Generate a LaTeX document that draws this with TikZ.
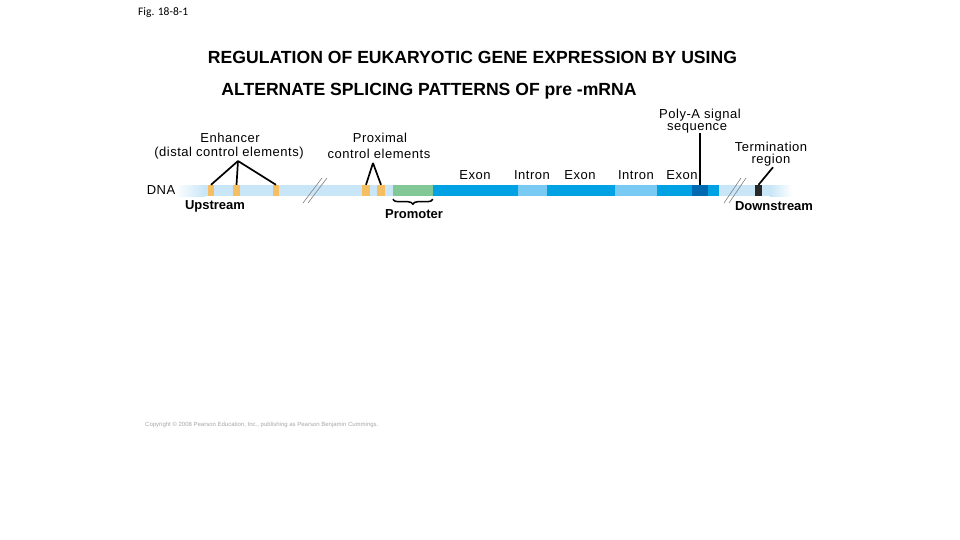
\documentclass[tikz,border=0pt]{standalone}
\usepackage{fontspec}
\setmainfont{Liberation Sans}
\newfontfamily\lblfont[LetterSpace=4]{Liberation Sans}
\newfontfamily\figfont{Carlito}
\usetikzlibrary{decorations.pathreplacing}
\definecolor{dnalight}{RGB}{200,230,248}
\definecolor{exonblue}{RGB}{0,162,228}
\definecolor{intronblue}{RGB}{120,202,242}
\definecolor{polyblue}{RGB}{0,105,175}
\definecolor{ctrlyellow}{RGB}{246,190,98}
\definecolor{promgreen}{RGB}{130,200,150}
\definecolor{termgray}{RGB}{40,40,40}
\begin{document}
\begin{tikzpicture}[x=1pt, y=-1pt,
    seg/.style={inner sep=0pt, minimum height=11pt, fill=#1},
    lbl/.style={font=\lblfont\fontsize{13}{14}\selectfont, inner sep=0pt},
    blbl/.style={font=\bfseries\fontsize{13}{14}\selectfont, inner sep=0pt},
    titletxt/.style={font=\bfseries\fontsize{17.6}{20}\selectfont, inner sep=0pt},
    pointer/.style={line width=1.7pt, black},
    breakmark/.style={gray, line width=0.6pt}]
    \useasboundingbox (0,0) rectangle (960,540);

    % Title
    \node[font=\figfont\fontsize{11.5}{13}\selectfont, anchor=west, inner sep=0pt] (fig) at (138,13) {Fig. 18-8-1};
    \node[titletxt] (title1) at (472.5,57) {REGULATION OF EUKARYOTIC GENE EXPRESSION BY USING};
    \node[titletxt] (title2) at (429,91) {ALTERNATE SPLICING PATTERNS OF pre -mRNA};

    % DNA strand
    \shade[left color=white, right color=dnalight] (175,185) rectangle (205,196);
    \fill[dnalight] (205,185) rectangle (770,196);
    \shade[left color=dnalight, right color=white] (770,185) rectangle (792,196);

    % control elements
    \node[seg=ctrlyellow, minimum width=6pt] (enh1) at (211,190.5) {};
    \node[seg=ctrlyellow, minimum width=7pt] (enh2) at (236.5,190.5) {};
    \node[seg=ctrlyellow, minimum width=6pt] (enh3) at (276,190.5) {};
    \node[seg=ctrlyellow, minimum width=8pt] (prox1) at (366,190.5) {};
    \node[seg=ctrlyellow, minimum width=8pt] (prox2) at (381,190.5) {};
    \node[seg=promgreen, minimum width=40pt] (prom) at (413,190.5) {};

    % transcription unit
    \node[seg=exonblue, minimum width=85pt] (exon1) at (475.5,190.5) {};
    \node[seg=intronblue, minimum width=29pt] (intron1) at (532.5,190.5) {};
    \node[seg=exonblue, minimum width=68pt] (exon2) at (581,190.5) {};
    \node[seg=intronblue, minimum width=42pt] (intron2) at (636,190.5) {};
    \node[seg=exonblue, minimum width=62pt] (exon3) at (688,190.5) {};
    \node[seg=polyblue, minimum width=16pt] (polyA) at (700,190.5) {};
    \node[seg=termgray, minimum width=7pt] (term) at (758.5,190.5) {};

    % breaks
    \draw[breakmark] (303,203) -- (322,178);
    \draw[breakmark] (308,203) -- (327,178);
    \draw[breakmark] (724,203) -- (741,178);
    \draw[breakmark] (729,203) -- (746,178);

    % labels
    \node[lbl] (dna) at (161,190) {DNA};
    \node[lbl] (enh) at (230,138) {Enhancer};
    \node[lbl] (enhsub) at (229,153) {(distal control elements)};
    \node[lbl] (prox) at (380,138) {Proximal};
    \node[lbl] (proxsub) at (379,154) {control elements};
    \node[lbl] at (475,175) {Exon};
    \node[lbl] at (532,175) {Intron};
    \node[lbl] at (580,175) {Exon};
    \node[lbl] at (636,175) {Intron};
    \node[lbl] at (682,175) {Exon};
    \node[lbl] (polyAtxt) at (700,115) {Poly-A signal};
    \node[lbl] (polyAsub) at (697,128) {sequence};
    \node[lbl] (termtxt) at (771,147) {Termination};
    \node[lbl] (termsub) at (771,160) {region};
    \node[blbl] (up) at (215,206) {Upstream};
    \node[blbl] (promtxt) at (414,214) {Promoter};
    \node[blbl] (down) at (774,206) {Downstream};

    % pointers
    \coordinate (enhtop) at (238,161);
    \coordinate (proxtop) at (373,163);
    \draw[pointer] (enhtop) -- (enh1.north);
    \draw[pointer] (enhtop) -- (enh2.north);
    \draw[pointer] (enhtop) -- (enh3.north);
    \draw[pointer] (proxtop) -- (prox1.north);
    \draw[pointer] (proxtop) -- (prox2.north);
    \draw[pointer, line width=2pt] (polyAsub.south -| polyA.north) -- (polyA.north);
    \draw[pointer] (termsub.south) ++(2,1) coordinate (termtop) -- (term.north);

    % promoter brace
    \draw[pointer, line width=1.5pt, decorate, decoration={brace, mirror, amplitude=5pt}] (prom.south west) ++(0,3) -- ++(40,0);

    \node[gray!70, font=\fontsize{6}{7}\selectfont, anchor=west, inner sep=0pt] (copy) at (145,425) {Copyright \textcopyright{} 2008 Pearson Education, Inc., publishing as Pearson Benjamin Cummings.};
\end{tikzpicture}
\end{document}
